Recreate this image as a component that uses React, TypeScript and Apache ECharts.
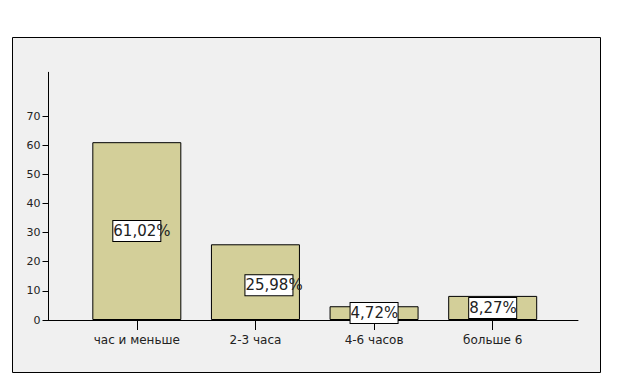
import React, { useEffect, useRef } from "react";
import * as echarts from "echarts";

const categories = ["час и меньше", "2-3 часа", "4-6 часов", "больше 6"];
const values = [61.02, 25.98, 4.72, 8.27];
const percentLabels = ["61,02%", "25,98%", "4,72%", "8,27%"];
const yTicks = [0, 10, 20, 30, 40, 50, 60, 70];

export default function App() {
  const ref = useRef<HTMLDivElement>(null);
  useEffect(() => {
    if (!ref.current) return;
    const chart = echarts.init(ref.current, undefined, { renderer: "svg" });
    const font = "DejaVu Sans";
    chart.setOption({
      animation: false,
      backgroundColor: "#ffffff",
      graphic: [
        {
          type: "rect",
          z: -10,
          shape: { x: 12.5, y: 37.5, width: 588, height: 335 },
          style: { fill: "#f0f0f0", stroke: "#000", lineWidth: 1 },
          silent: true,
        },
      ],
      grid: [
        { left: 77.5, right: 72, top: 72.3, bottom: 63 },
        { left: 48, right: 46, top: 72.3, bottom: 63 },
      ],
      xAxis: [
        {
          type: "category",
          gridIndex: 0,
          data: categories,
          axisLine: { show: false },
          axisTick: { show: true, alignWithLabel: true, length: 10, lineStyle: { color: "#000" } },
          axisLabel: { margin: 14, color: "#222", fontSize: 12, fontFamily: font },
          splitLine: { show: false },
        },
        {
          type: "value",
          gridIndex: 1,
          min: 0,
          max: 1,
          axisLine: { show: true, onZero: false, lineStyle: { color: "#000", width: 1 } },
          axisTick: { show: false },
          axisLabel: { show: false },
          splitLine: { show: false },
        },
      ],
      yAxis: [
        {
          type: "value",
          gridIndex: 0,
          min: 0,
          max: 85,
          interval: 10,
          offset: 29,
          axisLine: { show: true, lineStyle: { color: "#000" } },
          axisTick: { show: true, length: 6, customValues: yTicks, lineStyle: { color: "#000" } },
          axisLabel: { customValues: yTicks, margin: 8, color: "#222", fontSize: 11, fontFamily: font },
          splitLine: { show: false },
        },
        {
          type: "value",
          gridIndex: 1,
          min: 0,
          max: 1,
          show: false,
        },
      ],
      series: [
        {
          type: "bar",
          xAxisIndex: 0,
          yAxisIndex: 0,
          barWidth: 89,
          data: values.map((v, i) =>
            i === 1 ? { value: v, label: { offset: [-10, 3] } } : { value: v }
          ),
          itemStyle: { color: "#d3cf99", borderColor: "#000", borderWidth: 1 },
          label: {
            show: true,
            position: "inside",
            formatter: (p: any) => percentLabels[p.dataIndex],
            width: 47,
            height: 20,
            lineHeight: 20,
            align: "left",
            verticalAlign: "middle",
            offset: [-23.5, 0],
            overflow: "none",
            backgroundColor: "#ffffff",
            borderColor: "#000",
            borderWidth: 1,
            padding: 0,
            color: "#222",
            fontSize: 15,
            fontFamily: font,
          },
        },
      ],
    });
    return () => chart.dispose();
  }, []);
  return (
    <div
      ref={ref}
      style={{ position: "absolute", left: 0, top: 0, width: 624, height: 383 }}
    />
  );
}
